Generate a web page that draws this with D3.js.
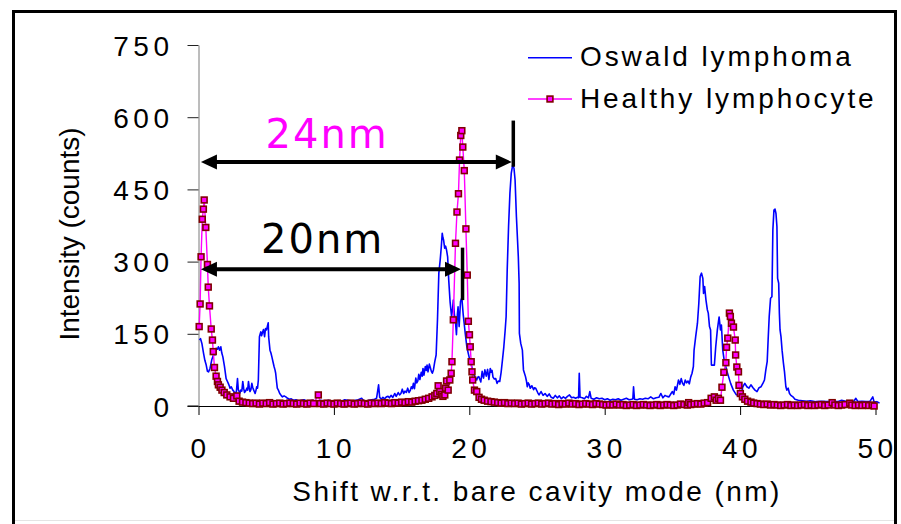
<!DOCTYPE html>
<html>
<head>
<meta charset="utf-8">
<script src="https://cdn.jsdelivr.net/npm/d3@7"></script>
<style>
  html, body { margin: 0; padding: 0; background: #fff; }
  svg { display: block; }
</style>
</head>
<body>
<script>
// ---- data ---------------------------------------------------------------
const xTicks = [0, 10, 20, 30, 40, 50];
const yTicks = [0, 150, 300, 450, 600, 750];
const seriesNames = ["Oswald lymphoma", "Healthy lymphocyte"];
const xTitle = "Shift w.r.t. bare cavity mode (nm)";
const yTitle = "Intensity (counts)";

// [shift (nm), counts]
const oswald = [
[0.07,137],[0.15,140],[0.25,130],[0.37,110],[0.47,95],[0.57,85],[0.66,72],[0.74,71],[0.85,78],[0.98,96],
[1.08,104],[1.15,110],[1.22,106],[1.3,120],[1.4,118],[1.47,123],[1.56,116],[1.65,123],[1.72,110],[1.8,102],
[1.92,82],[2.04,57],[2.12,52],[2.2,47],[2.27,42],[2.33,37],[2.42,40],[2.53,33],[2.62,30],[2.7,26],
[2.8,30],[2.88,57],[2.94,34],[3.0,30],[3.06,27],[3.12,33],[3.2,31],[3.27,51],[3.34,36],[3.4,28],
[3.48,31],[3.57,37],[3.63,33],[3.69,51],[3.75,38],[3.8,30],[3.87,34],[3.94,47],[4.0,39],[4.05,35],
[4.12,30],[4.18,26],[4.25,33],[4.3,40],[4.36,37],[4.42,54],[4.5,144],[4.56,150],[4.6,154],[4.66,146],
[4.7,150],[4.75,155],[4.8,159],[4.88,144],[4.95,161],[5.02,158],[5.08,165],[5.15,173],[5.18,144],[5.28,116],
[5.35,110],[5.42,102],[5.5,92],[5.58,82],[5.65,75],[5.7,68],[5.76,52],[5.82,37],[5.9,33],[6.0,26],
[6.1,22],[6.2,19],[6.32,21],[6.45,19],[6.58,16],[6.7,14],[6.85,15],[7.0,12],[7.2,13],[7.4,10],
[7.6,12],[7.8,13],[8.0,10],[8.2,9],[8.4,12],[8.6,11],[8.8,10],[9.0,12],[9.2,11],[9.4,10],
[9.6,12],[9.8,9],[10.0,11],[10.2,11],[10.4,10],[10.6,10],[10.8,13],[11.0,12],[11.2,11],[11.4,10],
[11.6,12],[11.8,13],[12.05,16],[12.2,11],[12.4,10],[12.6,12],[12.8,13],[13.0,14],[13.15,16],[13.3,44],
[13.38,18],[13.5,14],[13.62,18],[13.75,15],[13.88,19],[14.0,20],[14.1,17],[14.22,22],[14.35,18],[14.5,26],
[14.6,20],[14.75,28],[14.85,23],[14.95,26],[15.05,35],[15.15,26],[15.25,31],[15.35,28],[15.45,37],[15.55,28],
[15.65,33],[15.72,40],[15.8,36],[15.87,47],[15.95,36],[16.05,58],[16.12,48],[16.2,52],[16.27,66],[16.35,55],
[16.45,70],[16.52,62],[16.58,78],[16.65,64],[16.75,82],[16.82,74],[16.88,85],[16.95,71],[17.05,87],[17.12,80],
[17.2,72],[17.27,68],[17.35,75],[17.45,92],[17.55,106],[17.65,179],[17.75,276],[17.85,303],[17.93,330],[18.0,359],
[18.05,350],[18.1,345],[18.18,328],[18.25,332],[18.32,324],[18.4,310],[18.48,262],[18.58,217],[18.69,186],[18.76,200],
[18.82,220],[18.9,190],[18.97,179],[19.05,148],[19.12,190],[19.17,206],[19.25,165],[19.35,217],[19.45,225],[19.55,190],
[19.62,172],[19.7,151],[19.82,123],[19.92,110],[20.0,100],[20.08,96],[20.15,85],[20.3,68],[20.42,60],[20.55,54],
[20.62,60],[20.7,61],[20.78,55],[20.85,50],[20.95,72],[21.0,64],[21.05,58],[21.15,75],[21.25,62],[21.35,76],
[21.45,55],[21.55,78],[21.62,70],[21.68,74],[21.75,60],[21.85,56],[21.95,57],[22.05,47],[22.15,52],[22.25,51],
[22.35,70],[22.45,96],[22.55,123],[22.65,158],[22.72,186],[22.8,283],[22.9,373],[23.0,442],[23.1,484],[23.2,500],
[23.3,494],[23.38,470],[23.48,393],[23.62,310],[23.68,255],[23.7,151],[23.8,130],[23.92,116],[24.0,75],[24.15,61],
[24.22,52],[24.28,40],[24.35,48],[24.42,45],[24.5,37],[24.62,42],[24.75,34],[24.82,38],[24.9,37],[25.05,28],
[25.15,23],[25.3,30],[25.45,22],[25.6,26],[25.75,20],[25.9,25],[26.05,18],[26.2,16],[26.35,22],[26.5,17],
[26.65,21],[26.8,15],[26.95,19],[27.1,16],[27.25,20],[27.4,23],[27.55,17],[27.7,18],[27.85,16],[28.0,18],
[28.07,17],[28.12,68],[28.18,18],[28.35,17],[28.5,15],[28.65,20],[28.8,17],[28.9,30],[29.0,16],[29.2,14],
[29.4,17],[29.6,15],[29.8,16],[30.0,13],[30.2,15],[30.4,12],[30.6,14],[30.8,13],[31.0,15],[31.2,12],
[31.4,14],[31.6,16],[31.8,13],[32.0,14],[32.08,15],[32.13,40],[32.2,14],[32.4,13],[32.6,15],[32.8,14],
[33.0,16],[33.2,15],[33.4,19],[33.6,15],[33.8,17],[34.0,18],[34.15,26],[34.3,17],[34.45,22],[34.6,20],
[34.75,19],[34.9,26],[35.0,30],[35.1,24],[35.2,40],[35.3,33],[35.45,54],[35.55,45],[35.65,57],[35.75,47],
[35.85,43],[35.95,54],[36.05,48],[36.15,52],[36.25,46],[36.35,60],[36.45,68],[36.55,82],[36.6,116],[36.72,144],
[36.85,172],[36.95,213],[37.05,269],[37.15,276],[37.25,265],[37.3,234],[37.38,248],[37.48,220],[37.58,200],[37.65,193],
[37.74,165],[37.82,158],[37.88,85],[38.0,85],[38.1,85],[38.2,123],[38.32,158],[38.45,185],[38.55,158],[38.62,168],
[38.72,116],[38.82,96],[39.0,75],[39.15,61],[39.3,47],[39.5,33],[39.7,24],[39.9,21],[40.1,26],[40.2,40],
[40.35,47],[40.5,40],[40.65,37],[40.8,44],[40.95,38],[41.1,33],[41.25,30],[41.4,38],[41.55,40],[41.7,48],
[41.8,54],[41.9,75],[42.0,92],[42.07,137],[42.15,186],[42.25,224],[42.35,227],[42.42,366],[42.5,407],[42.58,409],
[42.65,400],[42.72,373],[42.77,265],[42.85,255],[42.9,193],[42.95,158],[43.02,144],[43.1,116],[43.2,89],[43.28,71],
[43.38,40],[43.45,33],[43.55,37],[43.65,26],[43.75,22],[43.9,19],[44.05,14],[44.3,12],[44.6,11],[44.9,10],
[45.2,11],[45.6,9],[46.0,10],[46.4,9],[46.8,10],[47.2,9],[47.5,12],[47.8,10],[48.1,9],[48.4,10],
[48.55,16],[48.7,9],[49.0,10],[49.3,9],[49.6,10],[49.8,19],[49.9,8],[50.1,9],[50.3,6]
];

// [shift (nm), counts]
const healthy = [
[0.05,165],[0.12,212],[0.19,310],[0.28,388],[0.36,409],[0.42,428],[0.54,371],[0.66,294],[0.72,247],[0.81,208],
[0.94,160],[1.03,137],[1.09,113],[1.18,80],[1.3,62],[1.4,51],[1.47,44],[1.6,39],[1.73,33],[1.9,28],
[2.09,23],[2.33,19],[2.58,16],[2.83,21],[3.0,10],[3.25,8],[3.5,7],[3.75,6],[4.0,5],[4.25,6],
[4.5,4],[4.75,6],[5.0,5],[5.25,7],[5.5,4],[5.75,5],[6.0,6],[6.25,4],[6.5,5],[6.75,6],
[7.0,5],[7.25,4],[7.5,6],[7.75,5],[8.0,4],[8.25,6],[8.5,5],[8.85,23],[9.0,5],[9.25,4],
[9.5,6],[9.75,5],[10.0,4],[10.25,6],[10.5,5],[10.75,4],[11.0,5],[11.25,6],[11.5,4],[11.75,5],
[12.0,6],[12.25,5],[12.5,4],[12.75,6],[13.0,5],[13.25,6],[13.5,5],[13.75,7],[14.0,6],[14.25,5],
[14.5,7],[14.75,6],[15.0,8],[15.25,7],[15.5,9],[15.75,8],[16.0,10],[16.25,11],[16.5,12],[16.75,14],
[17.0,16],[17.25,19],[17.45,22],[17.6,26],[17.7,42],[17.82,30],[17.95,24],[18.05,20],[18.19,23],[18.25,37],
[18.32,52],[18.44,33],[18.56,54],[18.66,68],[18.72,92],[18.82,179],[18.98,338],[19.09,403],[19.2,441],[19.28,511],
[19.37,562],[19.45,572],[19.52,538],[19.63,489],[19.75,368],[19.85,272],[19.93,176],[20.01,148],[20.07,123],[20.14,92],
[20.2,71],[20.25,54],[20.38,33],[20.55,30],[20.72,18],[20.9,14],[21.1,12],[21.35,10],[21.6,9],[21.85,8],
[22.1,7],[22.35,6],[22.6,7],[22.85,5],[23.1,6],[23.35,5],[23.6,6],[23.85,4],[24.1,5],[24.35,6],
[24.6,4],[24.85,5],[25.1,6],[25.35,4],[25.6,5],[25.85,6],[26.1,4],[26.35,5],[26.6,3],[26.85,5],
[27.1,4],[27.35,6],[27.6,4],[27.85,5],[28.1,3],[28.35,4],[28.6,5],[28.85,4],[29.1,3],[29.35,5],
[29.6,4],[29.85,3],[30.1,2],[30.35,3],[30.6,2],[30.85,4],[31.1,2],[31.35,3],[31.6,1],[31.85,2],
[32.1,3],[32.35,1],[32.6,2],[32.85,3],[33.1,2],[33.35,1],[33.6,2],[33.85,3],[34.1,1],[34.35,2],
[34.6,3],[34.85,2],[35.1,1],[35.35,2],[35.6,4],[35.85,3],[36.1,2],[36.2,7],[36.35,3],[36.6,4],
[36.85,5],[37.1,4],[37.35,6],[37.6,7],[37.86,16],[38.1,19],[38.23,12],[38.4,16],[38.55,12],[38.66,39],
[38.8,70],[38.95,90],[39.0,122],[39.09,141],[39.21,193],[39.28,186],[39.36,172],[39.51,164],[39.64,137],[39.67,106],
[39.76,81],[39.88,71],[39.92,43],[40.02,26],[40.17,19],[40.35,14],[40.55,10],[40.8,8],[41.0,6],[41.25,5],
[41.5,4],[41.75,3],[42.0,4],[42.25,2],[42.5,3],[42.75,2],[43.0,1],[43.25,2],[43.5,3],[43.75,1],
[44.0,2],[44.25,1],[44.5,2],[44.75,3],[45.0,1],[45.25,2],[45.5,1],[45.75,2],[46.0,3],[46.25,1],
[46.5,2],[46.8,7],[47.0,2],[47.25,1],[47.5,2],[47.75,3],[48.1,6],[48.25,2],[48.5,1],[48.75,2],
[49.0,1],[49.25,2],[49.5,1],[49.75,2],[49.9,0]
];

// peak-shift annotations: arrow from the bare mode to the shifted peak
const shiftLabels = ["24nm", "20nm"];
const shiftFrom = [0.15, 0.15];        // nm
const shiftTo = [23.25, 19.5];         // nm (peak position)
const shiftLevel = [507, 284];         // counts at which the arrow runs
const markerTop = [593, 329];          // counts, vertical marker span
const markerBottom = [497, 220];

// ---- layout -------------------------------------------------------------
const W = 901, H = 524;
const blue = "#0000ff", magenta = "#ff00ff", maroon = "#800000";
const sans = "'Liberation Sans', Arial, Helvetica, sans-serif";

const svg = d3.select("body").append("svg")
  .attr("width", W).attr("height", H)
  .attr("viewBox", `0 0 ${W} ${H}`);

svg.append("rect").attr("width", W).attr("height", H).attr("fill", "#fff");

// outer frame
svg.append("path")
  .attr("d", `M13.5,${H + 2}V11.5H895.5V${H + 2}`)
  .attr("fill", "none").attr("stroke", "#000").attr("stroke-width", 3);
svg.append("line")
  .attr("x1", 15).attr("x2", 894).attr("y1", 520.5).attr("y2", 520.5)
  .attr("stroke", "#e4e4e4").attr("stroke-width", 1);

const x = d3.scaleLinear().domain([0, 50]).range([198.5, 875.5]);
const y = d3.scaleLinear().domain([0, 750]).range([406, 45]);

// ---- axes ---------------------------------------------------------------
const yAxis = svg.append("g")
  .attr("transform", `translate(${x(0)},0)`)
  .call(d3.axisLeft(y).tickValues(yTicks).tickSize(11).tickSizeOuter(0).tickFormat(d3.format("d")));
yAxis.select(".domain").attr("stroke", "#7a7a7a").attr("stroke-width", 1);
yAxis.selectAll(".tick line").attr("stroke", "#222").attr("stroke-width", 1);
yAxis.selectAll(".tick text")
  .attr("x", -25).attr("dy", null).attr("y", 10)
  .attr("fill", "#000")
  .style("font-family", sans).style("font-size", "28px").style("letter-spacing", "4.5px");

const xAxis = svg.append("g")
  .attr("transform", `translate(0,${y(0)})`)
  .call(d3.axisBottom(x).tickValues(xTicks).tickSize(9).tickSizeOuter(0).tickFormat(d3.format("d")));
xAxis.select(".domain").attr("stroke", "#000").attr("stroke-width", 1);
xAxis.selectAll(".tick line").attr("stroke", "#000").attr("stroke-width", 1);
xAxis.selectAll(".tick text")
  .attr("x", 1.5).attr("dy", null).attr("y", 52)
  .attr("fill", "#000")
  .style("font-family", sans).style("font-size", "28px").style("letter-spacing", "4.5px");
// extend the zero line slightly left to meet the y-axis tick
svg.append("line")
  .attr("x1", x(0) - 11).attr("x2", x(0)).attr("y1", y(0)).attr("y2", y(0))
  .attr("stroke", "#000").attr("stroke-width", 1);

// axis titles
svg.append("text")
  .attr("x", 537).attr("y", 501)
  .attr("text-anchor", "middle")
  .style("font-family", sans).style("font-size", "28px").style("letter-spacing", "2.4px")
  .text(xTitle);

svg.append("text")
  .attr("transform", "translate(79,234) rotate(-90)")
  .attr("text-anchor", "middle")
  .style("font-family", sans).style("font-size", "28px")
  .text(yTitle);

// ---- series -------------------------------------------------------------
const line = d3.line().x(d => x(d[0])).y(d => y(d[1]));

svg.append("path")
  .datum(oswald)
  .attr("d", line)
  .attr("fill", "none").attr("stroke", blue).attr("stroke-width", 1.6)
  .attr("stroke-linejoin", "round");

svg.append("path")
  .datum(healthy)
  .attr("d", line)
  .attr("fill", "none").attr("stroke", magenta).attr("stroke-width", 1.4)
  .attr("stroke-linejoin", "round");

const ms = 5.8;
svg.append("g").selectAll("rect")
  .data(healthy)
  .join("rect")
  .attr("x", d => x(d[0]) - ms / 2)
  .attr("y", d => y(d[1]) - ms / 2)
  .attr("width", ms).attr("height", ms)
  .attr("fill", magenta).attr("stroke", maroon).attr("stroke-width", 1.6);

// ---- legend -------------------------------------------------------------
const legend = svg.append("g");
const legendRows = [57.7, 99];
legend.append("line")
  .attr("x1", 528).attr("x2", 572).attr("y1", legendRows[0]).attr("y2", legendRows[0])
  .attr("stroke", blue).attr("stroke-width", 1.5);
legend.append("line")
  .attr("x1", 528).attr("x2", 572).attr("y1", legendRows[1]).attr("y2", legendRows[1])
  .attr("stroke", magenta).attr("stroke-width", 1.4);
legend.append("rect")
  .attr("x", 550 - ms / 2).attr("y", legendRows[1] - ms / 2)
  .attr("width", ms).attr("height", ms)
  .attr("fill", magenta).attr("stroke", maroon).attr("stroke-width", 1.6);
legend.selectAll("text")
  .data(seriesNames)
  .join("text")
  .attr("x", 580)
  .attr("y", (d, i) => legendRows[i] + 8.5)
  .style("font-family", sans).style("font-size", "28px").style("letter-spacing", "2.9px")
  .text(d => d);

// ---- shift annotations --------------------------------------------------
const labelColors = [magenta, "#000"];
const labelPos = [[265.5, 148.3], [261, 253.3]];
const headL = 16, headW = 7.5;
shiftLabels.forEach((lab, i) => {
  const g = svg.append("g");
  const yy = y(shiftLevel[i]);
  const xa = x(shiftFrom[i]) + 0.4;
  const xb = x(shiftTo[i]) - 1.5;
  g.append("line")
    .attr("x1", xa + headL - 1).attr("x2", xb - headL + 1)
    .attr("y1", yy).attr("y2", yy)
    .attr("stroke", "#000").attr("stroke-width", 4);
  g.append("path")
    .attr("d", `M${xa},${yy}L${xa + headL},${yy - headW}L${xa + headL},${yy + headW}Z`)
    .attr("fill", "#000");
  g.append("path")
    .attr("d", `M${xb},${yy}L${xb - headL},${yy - headW}L${xb - headL},${yy + headW}Z`)
    .attr("fill", "#000");
  g.append("line")
    .attr("x1", x(shiftTo[i])).attr("x2", x(shiftTo[i]))
    .attr("y1", y(markerTop[i])).attr("y2", y(markerBottom[i]))
    .attr("stroke", "#000").attr("stroke-width", 3.5);
  g.append("text")
    .attr("x", labelPos[i][0]).attr("y", labelPos[i][1])
    .attr("fill", labelColors[i])
    .style("font-family", "'DejaVu Sans', Verdana, sans-serif")
    .style("font-size", "40px").style("letter-spacing", "2px")
    .text(lab);
});
</script>
</body>
</html>
